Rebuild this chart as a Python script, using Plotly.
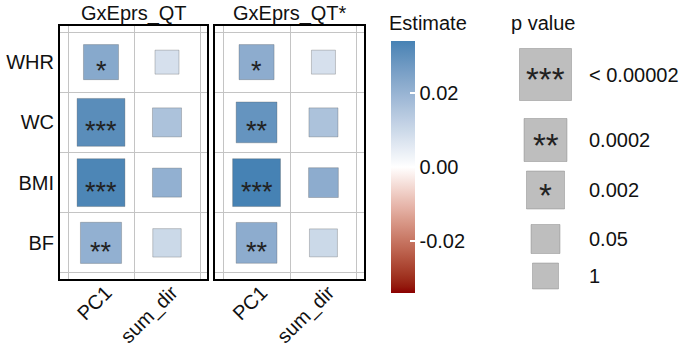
import numpy as np
import plotly.graph_objects as go

# ---------------- data ----------------
ROWS = ["WHR", "WC", "BMI", "BF"]
COLS = ["PC1", "sum_dir"]
PANELS = ["GxEprs_QT", "GxEprs_QT*"]

EST_P1_PC1 = [0.023, 0.031, 0.033, 0.021]
EST_P1_SUM = [0.008, 0.016, 0.021, 0.010]
P_P1_PC1 = [1.9e-3, 1.5e-5, 1.0e-5, 1.3e-4]
P_P1_SUM = [0.9, 0.02, 0.02, 0.025]

EST_P2_PC1 = [0.022, 0.029, 0.034, 0.022]
EST_P2_SUM = [0.008, 0.016, 0.022, 0.010]
P_P2_PC1 = [1.9e-3, 1.4e-4, 1.0e-5, 1.4e-4]
P_P2_SUM = [0.9, 0.02, 0.015, 0.03]

LEGEND_P = [0.00002, 0.0002, 0.002, 0.05, 1]
LEGEND_LABELS = ["< 0.00002", "0.0002", "0.002", "0.05", "1"]
STAR_CUTS = [0.00002, 0.0002, 0.002]
CB_TICKS = [-0.02, 0.0, 0.02]
CB_TICKTEXT = ["-0.02", "0.00", "0.02"]

# ---------------- styles ----------------
W, H = 685, 352
ML, MR, MT, MB = 60, 0, 26, 73
PW, PH = W - ML - MR, H - MT - MB
FONT = "Liberation Sans, Arial, sans-serif"
LOW, MID, HIGH = "#8B0000", "#FFFFFF", "#4682B4"
SIZE_PX = [52, 43, 38, 29, 26]      # size scale range at the legend breaks
PANEL_SIZE_FACTOR = 0.92
GRID = "#c4c4c4"


def px_x(p):
    return (p - ML) / PW


def px_y(p):
    return (MT + PH - p) / PH


# --- Lab interpolation (like ggplot's gradient2) ---
def hex2rgb(h):
    h = h.lstrip("#")
    return np.array([int(h[i:i + 2], 16) / 255 for i in (0, 2, 4)])


WHITE = np.array([0.95047, 1.0, 1.08883])
M = np.array([[0.4124, 0.3576, 0.1805], [0.2126, 0.7152, 0.0722], [0.0193, 0.1192, 0.9505]])


def rgb2lab(c):
    lin = np.where(c <= 0.04045, c / 12.92, ((c + 0.055) / 1.055) ** 2.4)
    xyz = M @ lin / WHITE
    f = np.where(xyz > 0.008856, np.cbrt(xyz), 7.787 * xyz + 16 / 116)
    return np.array([116 * f[1] - 16, 500 * (f[0] - f[1]), 200 * (f[1] - f[2])])


def lab2rgb(lab):
    fy = (lab[0] + 16) / 116
    fx = fy + lab[1] / 500
    fz = fy - lab[2] / 200
    f = np.array([fx, fy, fz])
    xyz = np.where(f ** 3 > 0.008856, f ** 3, (f - 16 / 116) / 7.787) * WHITE
    lin = np.linalg.solve(M, xyz)
    lin = np.clip(lin, 0, 1)
    c = np.where(lin <= 0.0031308, 12.92 * lin, 1.055 * lin ** (1 / 2.4) - 0.055)
    c = np.clip(c, 0, 1)
    return "rgb(%d,%d,%d)" % tuple(np.round(c * 255))


def lab_mix(a, b, t):
    la, lb = rgb2lab(hex2rgb(a)), rgb2lab(hex2rgb(b))
    return lab2rgb(la + (lb - la) * t)


colorscale = []
for t in np.linspace(0, 1, 21):
    colorscale.append([t / 2, lab_mix(LOW, MID, t)])
for t in np.linspace(0, 1, 21)[1:]:
    colorscale.append([0.5 + t / 2, lab_mix(MID, HIGH, t)])

ALL_EST = EST_P1_PC1 + EST_P1_SUM + EST_P2_PC1 + EST_P2_SUM
LIM = max(abs(v) for v in ALL_EST)

logp_breaks = -np.log10(np.array(LEGEND_P))
order = np.argsort(logp_breaks)


def size_of(p):
    return float(np.interp(-np.log10(p), logp_breaks[order], np.array(SIZE_PX)[order]))


def stars_of(p):
    return "*" * sum(p < c for c in STAR_CUTS)


ROW_Y = {r: len(ROWS) - 1 - i for i, r in enumerate(ROWS)}
COL_X = {c: i for i, c in enumerate(COLS)}

fig = go.Figure()
annotations = []

panels_data = [
    (EST_P1_PC1, EST_P1_SUM, P_P1_PC1, P_P1_SUM, "x", "y"),
    (EST_P2_PC1, EST_P2_SUM, P_P2_PC1, P_P2_SUM, "x2", "y2"),
]
for k, (e1, e2, p1, p2, xa, ya) in enumerate(panels_data):
    xs, ys, cs, ss, ps = [], [], [], [], []
    for col, est, pv in (("PC1", e1, p1), ("sum_dir", e2, p2)):
        for r, e, p in zip(ROWS, est, pv):
            xs.append(COL_X[col])
            ys.append(ROW_Y[r])
            cs.append(e)
            ss.append(size_of(p) * PANEL_SIZE_FACTOR)
            ps.append(p)
    marker = dict(symbol="square", size=ss, color=cs, colorscale=colorscale,
                  cmin=-LIM, cmax=LIM, opacity=1,
                  line=dict(color="rgba(70,70,70,0.35)", width=0.8))
    if k == 0:
        marker["showscale"] = True
        marker["colorbar"] = dict(
            x=px_x(391), xanchor="left", xpad=0,
            y=px_y(167), yanchor="middle", ypad=0,
            lenmode="pixels", len=252, thicknessmode="pixels", thickness=24,
            outlinewidth=0, tickmode="array", tickvals=CB_TICKS, ticktext=CB_TICKTEXT,
            ticks="inside", ticklen=5, tickcolor="white", tickwidth=1.5,
            tickfont=dict(family=FONT, size=20, color="#111"),
        )
    fig.add_trace(go.Scatter(x=xs, y=ys, mode="markers", marker=marker,
                             xaxis=xa, yaxis=ya, showlegend=False, hoverinfo="skip"))
    for x, y, p in zip(xs, ys, ps):
        s = stars_of(p)
        if s:
            annotations.append(dict(x=x, y=y, xref=xa, yref=ya, text=s, showarrow=False,
                                    font=dict(family=FONT, size=27, color="#222"),
                                    xanchor="center", yanchor="middle", yshift=-9))

# legend for p value (size scale)
LEG_Y = [74.5, 140, 190, 239, 276]
LEG_X = 545.5
fig.add_trace(go.Scatter(
    x=[LEG_X] * len(LEGEND_P), y=LEG_Y, mode="markers",
    marker=dict(symbol="square", size=[size_of(p) for p in LEGEND_P], color="#bebebe",
                opacity=1, line=dict(color="rgba(120,120,120,0.5)", width=0.8)),
    xaxis="x3", yaxis="y3", showlegend=False, hoverinfo="skip", cliponaxis=False))
for p, lab, y in zip(LEGEND_P, LEGEND_LABELS, LEG_Y):
    s = stars_of(p * 0.999)
    if s:
        annotations.append(dict(x=LEG_X, y=y, xref="x3", yref="y3", text=s, showarrow=False,
                                font=dict(family=FONT, size=33, color="#222"),
                                xanchor="center", yanchor="middle", yshift=-5))
    annotations.append(dict(x=587, y=y, xref="x3", yref="y3", text=lab, showarrow=False,
                            font=dict(family=FONT, size=20, color="#111"),
                            xanchor="left", yanchor="middle"))

# titles
for t, cx in zip(PANELS, [133.5, 289.5]):
    annotations.append(dict(x=px_x(cx), y=px_y(13), xref="paper", yref="paper", text=t,
                            showarrow=False, font=dict(family=FONT, size=20, color="#111"),
                            xanchor="center", yanchor="middle"))
annotations.append(dict(x=px_x(387), y=px_y(23), xref="paper", yref="paper", text="Estimate",
                        showarrow=False, font=dict(family=FONT, size=20, color="#111"),
                        xanchor="left", yanchor="middle"))
annotations.append(dict(x=px_x(509), y=px_y(23), xref="paper", yref="paper", text="p value",
                        showarrow=False, font=dict(family=FONT, size=20, color="#111"),
                        xanchor="left", yanchor="middle"))

xr = [-0.5 - 8 / 66, 1.5 + 7 / 66]
yr = [-0.6, 3.6]
common_x = dict(range=xr, tickmode="array", tickvals=[0, 1], ticktext=COLS, tickangle=-45,
                tickfont=dict(family=FONT, size=20, color="#111"), showgrid=False,
                zeroline=False, showline=True, mirror=True, linecolor="black", linewidth=2,
                ticks="", ticklabelstandoff=-8, ticklabelshift=5,
                minor=dict(tickmode="array", tickvals=[-0.5, 0.5, 1.5], showgrid=True,
                           gridcolor=GRID, gridwidth=1))
common_y = dict(range=yr, tickmode="array", tickvals=[ROW_Y[r] for r in ROWS], ticktext=ROWS,
                tickfont=dict(family=FONT, size=20, color="#111"), showgrid=False,
                zeroline=False, showline=True, mirror=True, linecolor="black", linewidth=2,
                ticks="", minor=dict(tickmode="array", tickvals=[-0.5, 0.5, 1.5, 2.5, 3.5],
                                     showgrid=True, gridcolor=GRID, gridwidth=1))

fig.update_layout(
    width=W, height=H, margin=dict(l=ML, r=MR, t=MT, b=MB, autoexpand=False),
    paper_bgcolor="white", plot_bgcolor="white",
    xaxis=dict(domain=[0, px_x(207)], anchor="y", **common_x),
    xaxis2=dict(domain=[px_x(215), px_x(364)], anchor="y2", **common_x),
    yaxis=dict(domain=[0, 1], anchor="x", ticklabelstandoff=0, **common_y),
    yaxis2=dict(domain=[0, 1], anchor="x2", showticklabels=False, **common_y),
    xaxis3=dict(domain=[px_x(500), 1], range=[500, 685], visible=False, anchor="y3"),
    yaxis3=dict(domain=[0, 1], range=[MT + PH, MT], visible=False, anchor="x3"),
    annotations=annotations,
    font=dict(family=FONT, color="#111"),
)

fig.write_html("out.html", config={"displayModeBar": False},
               post_script="document.body.style.margin='0';document.body.style.overflow='hidden';")
